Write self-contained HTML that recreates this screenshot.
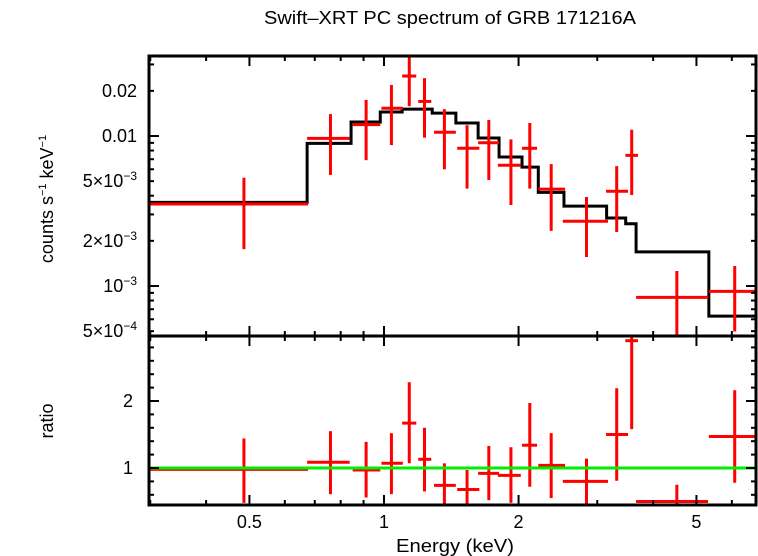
<!DOCTYPE html>
<html><head><meta charset="utf-8"><style>
html,body{margin:0;padding:0;background:#fff;}
svg{display:block;font-family:"Liberation Sans",sans-serif;}
</style></head><body>
<svg id="chart" width="758" height="556" viewBox="0 0 758 556">
<defs>
<clipPath id="clipTop"><rect x="149" y="56" width="607" height="280"/></clipPath>
<clipPath id="clipBot"><rect x="149" y="336" width="607" height="169"/></clipPath>
</defs>
<text x="450" y="24" font-size="18" text-anchor="middle" textLength="372" lengthAdjust="spacingAndGlyphs">Swift–XRT PC spectrum of GRB 171216A</text>
<text transform="translate(53,199) rotate(-90)" font-size="18" text-anchor="middle">counts s<tspan font-size="11" dy="-7">−1</tspan><tspan dy="7"> keV</tspan><tspan font-size="11" dy="-7">−1</tspan></text>
<text transform="translate(53,421) rotate(-90)" font-size="18" text-anchor="middle">ratio</text>
<text x="455" y="552" font-size="18" text-anchor="middle" textLength="118" lengthAdjust="spacingAndGlyphs">Energy (keV)</text>
<g id="gTop" clip-path="url(#clipTop)"></g>
<g id="gBot" clip-path="url(#clipBot)"></g>
<g id="gAxes"></g>
</svg>
<script>
// data
const eCenter=[0.486,0.759,0.912,1.039,1.139,1.232,1.365,1.534,1.716,1.923,2.119,2.366,2.838,3.316,3.582,4.52,6.09];
const eLow=[0.299,0.673,0.851,0.987,1.098,1.193,1.294,1.458,1.624,1.798,2.036,2.214,2.512,3.139,3.467,3.664,5.33];
const eHigh=[0.676,0.838,0.981,1.102,1.181,1.276,1.448,1.634,1.809,2.023,2.200,2.542,3.170,3.516,3.700,5.31,6.88];
const rate=[3.52e-3,9.65e-3,0.0119,0.0153,0.0251,0.0170,0.0106,8.28e-3,9.02e-3,6.38e-3,8.28e-3,4.42e-3,2.70e-3,4.28e-3,7.43e-3,8.4e-4,9.2e-4];
const rateHi=[5.27e-3,0.0140,0.0174,0.0219,0.0347,0.0243,0.0151,0.0118,0.0128,9.5e-3,0.0122,6.5e-3,3.92e-3,6.3e-3,0.0110,1.26e-3,1.36e-3];
const rateLo=[1.76e-3,5.5e-3,6.9e-3,8.7e-3,0.0158,9.75e-3,6.0e-3,4.46e-3,5.09e-3,3.47e-3,4.46e-3,2.33e-3,1.56e-3,2.29e-3,4.04e-3,4.0e-4,4.97e-4];
const ratio=[0.98,1.085,0.97,1.07,1.67,1.13,0.74,0.68,0.92,0.89,1.34,1.04,0.80,1.50,2.90,0.50,1.47];
const ratioHi=[1.44,1.55,1.39,1.52,2.28,1.60,1.07,0.97,1.33,1.31,1.97,1.52,1.14,2.19,3.4,0.75,2.16];
const ratioLo=[0.48,0.61,0.56,0.61,1.07,0.65,0.40,0.40,0.52,0.48,0.72,0.55,0.45,0.81,1.58,0.40,0.78];
const modelEdges=[0.299,0.673,0.844,0.981,1.098,1.282,1.448,1.624,1.809,2.036,2.214,2.527,3.148,3.473,3.664,5.33,6.88];
const modelVals=[3.61e-3,8.93e-3,0.0124,0.01445,0.0151,0.0142,0.0122,9.7e-3,7.24e-3,6.2e-3,4.21e-3,3.41e-3,2.84e-3,2.6e-3,1.69e-3,6.3e-4];
const xMajor=[0.5,1,2,5];
const xMajorLabels=["0.5","1","2","5"];
const xMinor=[0.3,0.4,0.6,0.7,0.8,0.9,3,4,6];
const yMajorTop=[0.01,0.001];
const yMinorTop=[5e-4,6e-4,7e-4,8e-4,9e-4,2e-3,3e-3,4e-3,5e-3,6e-3,7e-3,8e-3,9e-3,0.02,0.03];
const yLabelVals=[0.02,0.01,5e-3,2e-3,1e-3,5e-4];
const yLabelHtml=['0.02','0.01','5×10<tspan font-size="12" dy="-7">−3</tspan>','2×10<tspan font-size="12" dy="-7">−3</tspan>','10<tspan font-size="12" dy="-7">−3</tspan>','5×10<tspan font-size="12" dy="-7">−4</tspan>'];
const rMajor=[1,2];
const rMinor=[0.6,0.8,1.2,1.4,1.6,1.8,2.2,2.4,2.6,2.8];

const L=149,R=756,T=56,M=336,B=505;
const xS=e=>384+447*Math.log10(e);
const yT=v=>136-150*(Math.log10(v)+2);
const yB=r=>468-67*(r-1);
const NS='http://www.w3.org/2000/svg';
function mk(tag,attrs,parent){const el=document.createElementNS(NS,tag);for(const k in attrs)el.setAttribute(k,attrs[k]);parent.appendChild(el);return el;}
const gTop=document.getElementById('gTop'),gBot=document.getElementById('gBot'),gAx=document.getElementById('gAxes');

let d='';
for(let i=0;i<modelVals.length;i++){
  const x0=xS(modelEdges[i]),x1=xS(modelEdges[i+1]),y=yT(modelVals[i]);
  d+=(i===0?'M':'L')+x0+','+y+'L'+x1+','+y;
}
let mp=mk('path',{d:d,fill:'none',stroke:'#000','stroke-width':3},gTop);



for(let i=0;i<eCenter.length;i++){
  const g=mk('g',{stroke:'#f00','stroke-width':3},gTop);
  
  
  mk('line',{x1:xS(eLow[i]),x2:xS(eHigh[i]),y1:yT(rate[i]),y2:yT(rate[i])},g);
  mk('line',{x1:xS(eCenter[i]),x2:xS(eCenter[i]),y1:yT(rateLo[i]),y2:yT(rateHi[i])},g);
  const g2=mk('g',{stroke:'#f00','stroke-width':3},gBot);
  
  
  mk('line',{x1:xS(eLow[i]),x2:xS(eHigh[i]),y1:yB(ratio[i]),y2:yB(ratio[i])},g2);
  mk('line',{x1:xS(eCenter[i]),x2:xS(eCenter[i]),y1:yB(ratioLo[i]),y2:yB(ratioHi[i])},g2);
}
let gl=mk('line',{x1:L,x2:R,y1:yB(1),y2:yB(1),stroke:'#0e0','stroke-width':3},gBot);



let f1=mk('rect',{x:L,y:T,width:R-L,height:M-T,fill:'none',stroke:'#000','stroke-width':3},gAx);


let f2=mk('rect',{x:L,y:M,width:R-L,height:B-M,fill:'none',stroke:'#000','stroke-width':3},gAx);



function tickX(e,len){
  const x=xS(e);
  [[T,1],[M,-1],[M,1],[B,-1]].forEach(([y,s])=>mk('line',{x1:x,x2:x,y1:y,y2:y+s*len,stroke:'#000','stroke-width':2},gAx));
}
xMajor.forEach(e=>tickX(e,10));
xMinor.forEach(e=>tickX(e,5));
xMajor.forEach((e,i)=>{
  const t=mk('text',{x:xS(e),y:528,'font-size':18,'text-anchor':'middle'},gAx);
  t.textContent=xMajorLabels[i];
  
  
});
function tickY(y,len){
  mk('line',{x1:L,x2:L+len,y1:y,y2:y,stroke:'#000','stroke-width':2},gAx);
  mk('line',{x1:R,x2:R-len,y1:y,y2:y,stroke:'#000','stroke-width':2},gAx);
}
yMajorTop.forEach(v=>tickY(yT(v),10));
yMinorTop.forEach(v=>tickY(yT(v),5));
rMajor.forEach(v=>tickY(yB(v),10));
rMinor.forEach(v=>tickY(yB(v),5));
yLabelVals.forEach((v,i)=>{
  const t=mk('text',{x:137,y:yT(v)+6,'font-size':18,'text-anchor':'end'},gAx);
  t.innerHTML=yLabelHtml[i];
  
  
});
rMajor.forEach(v=>{
  const t=mk('text',{x:133,y:yB(v)+6,'font-size':18,'text-anchor':'end'},gAx);
  t.textContent=String(v);
  
  
});
</script>
</body></html>
